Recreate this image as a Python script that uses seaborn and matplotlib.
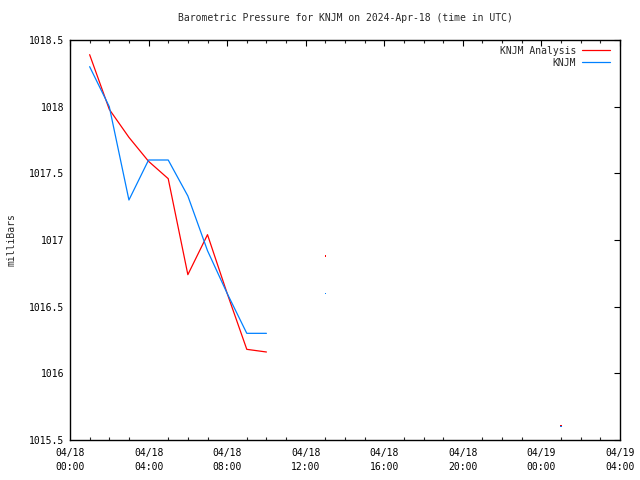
import matplotlib
matplotlib.use("Agg")
import matplotlib.pyplot as plt
import matplotlib.dates as mdates
import seaborn as sns
import pandas as pd
import numpy as np

# Data (hours after 2024-04-18 00:00 UTC)
hours = [1, 2, 3, 4, 5, 6, 7, 8, 9, 10]
analysis = [1018.39, 1017.98, 1017.77, 1017.59, 1017.46, 1016.74, 1017.04, 1016.60, 1016.18, 1016.16]
observed = [1018.30, 1018.00, 1017.30, 1017.60, 1017.60, 1017.33, 1016.92, 1016.60, 1016.30, 1016.30]
# isolated single points
iso_hours = [13, 25]
iso_analysis = [1016.88, 1015.61]
iso_observed = [1016.60, 1015.60]

base = pd.Timestamp("2024-04-18 00:00")
t = [base + pd.Timedelta(hours=h) for h in hours]
ti = [base + pd.Timedelta(hours=h) for h in iso_hours]

df = pd.DataFrame({
    "time": t * 2,
    "pressure": analysis + observed,
    "series": ["KNJM Analysis"] * len(hours) + ["KNJM"] * len(hours),
})
dfi = pd.DataFrame({
    "time": ti * 2,
    "pressure": iso_analysis + iso_observed,
    "series": ["KNJM Analysis"] * len(iso_hours) + ["KNJM"] * len(iso_hours),
})

sns.set_style("white")
plt.rcParams["font.family"] = ["DejaVu Sans Mono"]
FS = 7.0
plt.rcParams["font.size"] = FS

palette = {"KNJM Analysis": "#ff0000", "KNJM": "#0080ff"}

fig = plt.figure(figsize=(6.4, 4.8), dpi=100)
ax = fig.add_axes([70 / 640, 40 / 480, 550 / 640, 400 / 480])

sns.lineplot(data=df, x="time", y="pressure", hue="series", palette=palette,
             hue_order=["KNJM Analysis", "KNJM"], linewidth=0.9, ax=ax,
             estimator=None, sort=True)
sns.scatterplot(data=dfi, x="time", y="pressure", hue="series", palette=palette,
                hue_order=["KNJM Analysis", "KNJM"], s=0.8, marker="s",
                linewidth=0, ax=ax, legend=False)

ax.set_xlim(base, base + pd.Timedelta(hours=28))
ax.set_ylim(1015.5, 1018.5)
ax.set_yticks([1015.5, 1016, 1016.5, 1017, 1017.5, 1018, 1018.5])
ax.set_yticklabels(["1015.5", "1016", "1016.5", "1017", "1017.5", "1018", "1018.5"])
ax.xaxis.set_major_locator(mdates.HourLocator(byhour=range(0, 24, 4)))
ax.xaxis.set_minor_locator(mdates.HourLocator(interval=1))
ax.xaxis.set_major_formatter(mdates.DateFormatter("%m/%d\n%H:%M"))

ax.tick_params(axis="both", which="major", direction="in", length=4.5, width=0.8,
               top=True, right=True, labelsize=FS, pad=4, colors="black")
ax.tick_params(axis="x", which="major", pad=6)
ax.tick_params(axis="x", which="minor", direction="in", length=2, width=0.8,
               top=True, bottom=True)
for lab in ax.get_xticklabels():
    lab.set_horizontalalignment("center")
    lab.set_multialignment("left")
    lab.set_linespacing(1.45)

for s in ax.spines.values():
    s.set_visible(True)
    s.set_color("black")
    s.set_linewidth(1.0)

ax.set_xlabel("")
ax.set_ylabel("milliBars", fontsize=FS, labelpad=9)
ax.set_title("Barometric Pressure for KNJM on 2024-Apr-18 (time in UTC)",
             fontsize=FS, pad=13.5)

leg = ax.legend(loc="upper right", frameon=False, markerfirst=False,
                handlelength=2.9, fontsize=FS, borderaxespad=0.2,
                bbox_to_anchor=(0.993, 1.0),
                labelspacing=0.2, handletextpad=0.6)
for text in leg.get_texts():
    text.set_horizontalalignment("right")
for line in leg.get_lines():
    line.set_linewidth(0.9)

fig.savefig("out.png", dpi=100)
